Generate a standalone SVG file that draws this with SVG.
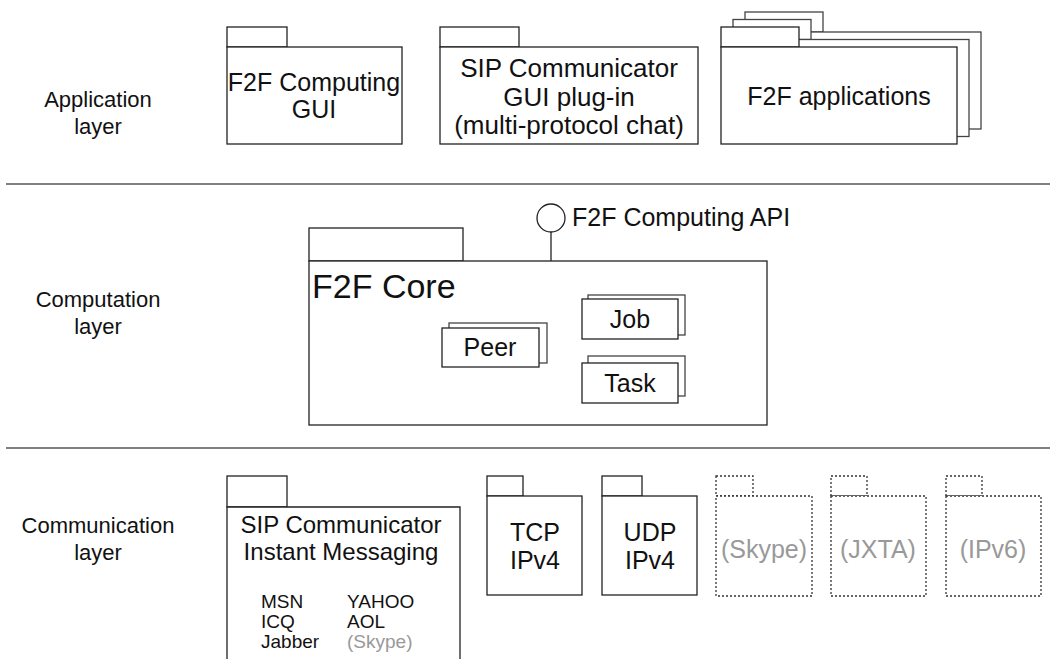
<svg xmlns="http://www.w3.org/2000/svg" width="1052" height="659" viewBox="0 0 1052 659">
<style>
text{font-family:"Liberation Sans",Arial,sans-serif;fill:#111}
.lbl{font-size:22px;text-anchor:middle}
.t{font-size:25px;text-anchor:middle}
.s{font-size:19px}
.g{fill:#999}
.box{fill:#fff;stroke:#222;stroke-width:1.3}
.back{fill:#fff;stroke:#444;stroke-width:1.3}
.dot{fill:#fff;stroke:#333;stroke-width:1.3;stroke-dasharray:2 2}
.sep{stroke:#555;stroke-width:1.5}
</style>
<rect width="1052" height="659" fill="#fff"/>
<g id="separators">
<line class="sep" x1="6" y1="184" x2="1050" y2="184"/>
<line class="sep" x1="6" y1="448" x2="1050" y2="448"/>
</g>
<g id="layer-labels">
<text class="lbl" x="98" y="107">Application</text>
<text class="lbl" x="98" y="134">layer</text>
<text class="lbl" x="98" y="307">Computation</text>
<text class="lbl" x="98" y="334">layer</text>
<text class="lbl" x="98" y="533">Communication</text>
<text class="lbl" x="98" y="560">layer</text>
</g>
<g id="f2f-gui">
<rect class="box" x="227" y="27" width="60" height="20"/>
<rect class="box" x="227" y="47" width="175" height="97"/>
<text class="t" x="314" y="91">F2F Computing</text>
<text class="t" x="314" y="118">GUI</text>
</g>
<g id="sip-gui">
<rect class="box" x="440" y="27" width="79" height="20"/>
<rect class="box" x="440" y="47" width="258" height="97"/>
<text class="t" x="569" y="77" style="font-size:26px">SIP Communicator</text>
<text class="t" x="569" y="106" style="font-size:26px">GUI plug-in</text>
<text class="t" x="569" y="134" style="font-size:26px">(multi-protocol chat)</text>
</g>
<g id="f2f-apps">
<rect class="back" x="745" y="12" width="78" height="20"/>
<rect class="back" x="745" y="32" width="236" height="97"/>
<rect class="back" x="733" y="19.5" width="78" height="20"/>
<rect class="back" x="733" y="39.5" width="236" height="97"/>
<rect class="box" x="721" y="27" width="78" height="20"/>
<rect class="box" x="721" y="47" width="236" height="97"/>
<text class="t" x="839" y="105">F2F applications</text>
</g>
<g id="connectors">
<line x1="551" y1="232" x2="551" y2="261" stroke="#222" stroke-width="1.3"/>
</g>
<g id="api">
<circle cx="551" cy="218" r="14" fill="#fff" stroke="#222" stroke-width="1.3"/>
<text x="572" y="226" style="font-size:25px">F2F Computing API</text>
</g>
<g id="f2f-core">
<rect class="box" x="309" y="228" width="154" height="33"/>
<rect class="box" x="309" y="261" width="458" height="164"/>
<text x="312" y="298" style="font-size:34px">F2F Core</text>
</g>
<g id="peer">
<rect class="back" x="449" y="323" width="98" height="40"/>
<rect class="box" x="442" y="328" width="97" height="39"/>
<text class="t" x="490" y="356">Peer</text>
</g>
<g id="job">
<rect class="back" x="588" y="295" width="97" height="40"/>
<rect class="box" x="582" y="299" width="96" height="40"/>
<text class="t" x="630" y="328">Job</text>
</g>
<g id="task">
<rect class="back" x="588" y="356" width="97" height="40"/>
<rect class="box" x="582" y="363" width="96" height="40"/>
<text class="t" x="630" y="392">Task</text>
</g>
<g id="sip-im">
<rect class="box" x="227" y="476" width="60" height="31"/>
<path class="box" d="M227 665 V507 H460 V665"/>
<text class="t" x="341" y="533" style="font-size:24px">SIP Communicator</text>
<text class="t" x="341" y="560" style="font-size:24px">Instant Messaging</text>
<text class="s" x="261" y="608">MSN</text>
<text class="s" x="261" y="628">ICQ</text>
<text class="s" x="261" y="648">Jabber</text>
<text class="s" x="347" y="608">YAHOO</text>
<text class="s" x="347" y="628">AOL</text>
<text class="s g" x="347" y="648">(Skype)</text>
</g>
<g id="tcp">
<rect class="box" x="487" y="476" width="36" height="20"/>
<rect class="box" x="487" y="496" width="95" height="99"/>
<text class="t" x="535" y="541">TCP</text>
<text class="t" x="535" y="569">IPv4</text>
</g>
<g id="udp">
<rect class="box" x="602" y="476" width="40" height="20"/>
<rect class="box" x="602" y="496" width="95" height="99"/>
<text class="t" x="650" y="541">UDP</text>
<text class="t" x="650" y="569">IPv4</text>
</g>
<g id="skype">
<rect class="dot" x="716" y="476" width="37" height="20"/>
<rect class="dot" x="716" y="496" width="96" height="100"/>
<text class="t g" x="764" y="558">(Skype)</text>
</g>
<g id="jxta">
<rect class="dot" x="831" y="476" width="36" height="20"/>
<rect class="dot" x="831" y="496" width="95" height="100"/>
<text class="t g" x="878" y="558">(JXTA)</text>
</g>
<g id="ipv6">
<rect class="dot" x="946" y="476" width="36" height="20"/>
<rect class="dot" x="946" y="496" width="95" height="100"/>
<text class="t g" x="993" y="558">(IPv6)</text>
</g>
</svg>
